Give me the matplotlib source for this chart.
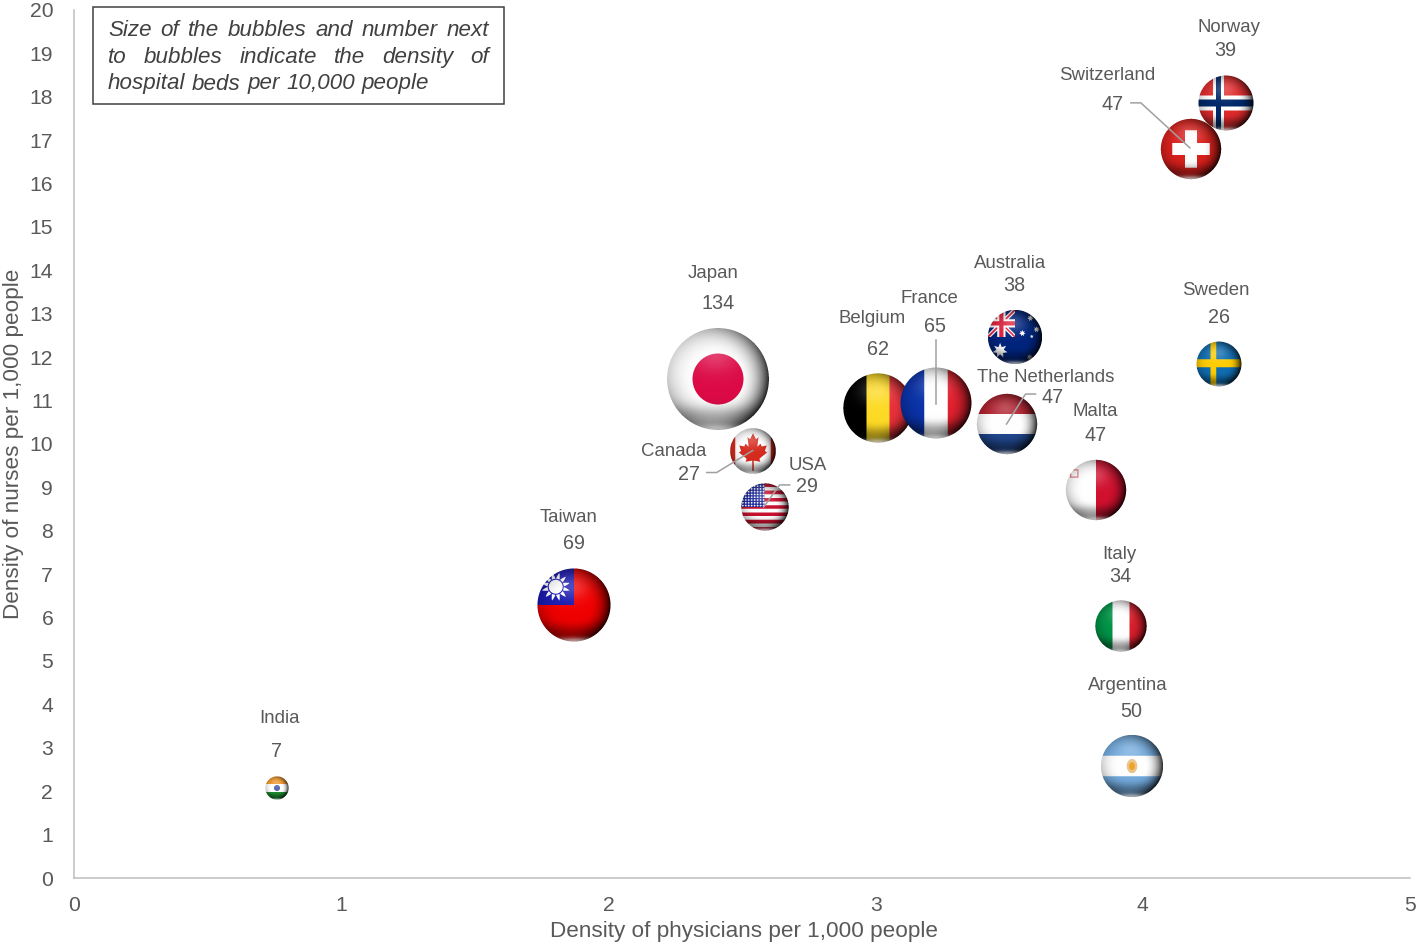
import numpy as np
import matplotlib
matplotlib.use("Agg")
import matplotlib.pyplot as plt
from matplotlib.lines import Line2D
from matplotlib.offsetbox import OffsetImage, AnnotationBbox
from matplotlib.patches import Rectangle
from matplotlib.path import Path
from matplotlib.transforms import IdentityTransform

plt.rcParams['font.family'] = ['Liberation Sans', 'DejaVu Sans']

countries = ['India', 'Taiwan', 'Japan', 'Canada', 'USA', 'Belgium', 'France', 'Australia',
             'The Netherlands', 'Malta', 'Italy', 'Argentina', 'Sweden', 'Norway', 'Switzerland']
physicians = [0.76, 1.87, 2.41, 2.54, 2.585, 3.01, 3.225, 3.52, 3.49, 3.825, 3.92, 3.96, 4.285, 4.31, 4.18]
nurses = [2.07, 6.3, 11.5, 9.85, 8.55, 10.83, 10.94, 12.47, 10.46, 8.94, 5.8, 2.58, 11.84, 17.86, 16.8]
beds = [7, 69, 134, 27, 29, 62, 65, 38, 47, 47, 34, 50, 26, 39, 47]

# pixel offsets from the bubble centre, x right / y down: name label, value label
label_offsets = {
    'India': ((2, -71), (-1, -38)),
    'Taiwan': ((-5, -88), (0, -62)),
    'Japan': ((-5, -106), (0, -76)),
    'Canada': ((-79, 0), (-64, 23)),
    'USA': ((43, -42), (42, -21)),
    'Belgium': ((-6, -90), (0, -59)),
    'France': ((-6, -106), (-1, -78)),
    'Australia': ((-4, -74), (0, -52)),
    'The Netherlands': ((39, -48), (46, -28)),
    'Malta': ((-1, -80), (0, -56)),
    'Italy': ((-2, -73), (-1, -51)),
    'Argentina': ((-4, -82), (-1, -56)),
    'Sweden': ((-3, -75), (0, -48)),
    'Norway': ((3, -76), (0, -53)),
    'Switzerland': ((-84, -74), (-78, -45)),
}

leaders = {
    'Switzerland': [(-60, -46), (-50, -46), (-1, -1)],
    'Canada': [(-46, 22), (-36, 22), (0, 0)],
    'USA': [(25, -22), (15, -22), (-1, 0)],
    'France': [(0, -63), (0, 1)],
    'The Netherlands': [(29, -30), (19, -30), (0, 0)],
}

note_lines = ['Size of the bubbles and number next',
              'to bubbles indicate the density of',
              'hospital beds per 10,000 people']

GREY = '#595959'
R_PER_ROOT_BED = 4.4  # bubble radius in px is this times sqrt(beds)


def star(cx, cy, r, points=5, inner=0.5):
    ang = np.pi / 2 + np.arange(points * 2) * np.pi / points
    rad = np.where(np.arange(points * 2) % 2 == 0, r, r * inner)
    return Path(np.c_[cx + rad * np.cos(ang), cy + rad * np.sin(ang)], closed=False)


def inside(path, u, v):
    pts = np.c_[u.ravel(), v.ravel()]
    return path.contains_points(pts).reshape(u.shape)


def bands(u, cols):
    img = np.zeros(u.shape + (3,))
    img[u < -1 / 3] = cols[0]
    img[(u >= -1 / 3) & (u <= 1 / 3)] = cols[1]
    img[u > 1 / 3] = cols[2]
    return img


def rgb(s):
    return np.array(matplotlib.colors.to_rgb(s))


def flag(name, u, v):
    img = np.ones(u.shape + (3,))
    if name == 'India':
        img = bands(-v, [rgb('#F0962A'), rgb('#FFFFFF'), rgb('#1E8A2E')])
        img[np.hypot(u, v) < 0.26] = rgb('#5A6CB0')
    elif name == 'Taiwan':
        img[:] = rgb('#F00000')
        c = (u < 0) & (v > 0)
        img[c] = rgb('#1A1AB0')
        du, dv = u + 0.5, v - 0.5
        r, th = np.hypot(du, dv), np.arctan2(dv, du)
        rays = r < 0.19 + 0.2 * (1 - np.abs(((th * 12 / (2 * np.pi)) % 1) * 2 - 1))
        img[c & rays] = 1
        img[c & (r > 0.19) & (r < 0.22)] = rgb('#1A1AB0')
    elif name == 'Japan':
        img[np.hypot(u, v) < 0.5] = rgb('#DC0A46')
    elif name == 'Canada':
        img[np.abs(u) > 0.78] = rgb('#D52B1E')
        leaf = [(0, .78), (.13, .52), (.24, .6), (.19, .18), (.33, .32), (.38, .2), (.6, .24), (.52, .0),
                (.62, -.06), (.28, -.34), (.32, -.47), (.03, -.42), (.03, -.88), (-.03, -.88), (-.03, -.42),
                (-.32, -.47), (-.28, -.34), (-.62, -.06), (-.52, .0), (-.6, .24), (-.38, .2), (-.33, .32),
                (-.19, .18), (-.24, .6), (-.13, .52)]
        img[inside(Path(leaf + [leaf[0]]), u, v)] = rgb('#D52B1E')
    elif name == 'USA':
        stripe = np.floor((1 - v) * 6.5).astype(int) % 2 == 0
        img[stripe] = rgb('#C8102E')
        c = (u < -0.02) & (v > 0)
        img[c] = rgb('#1E2A9C')
        sx, sy = (u * 8) % 1 - 0.5, (v * 8.5) % 1 - 0.5
        img[c & (np.hypot(sx, sy) < 0.3)] = 1
    elif name == 'Belgium':
        img = bands(u, [rgb('#000000'), rgb('#FDDA24'), rgb('#E8303A')])
    elif name == 'France':
        img = bands(u, [rgb('#0A32A8'), rgb('#FFFFFF'), rgb('#E0202E')])
    elif name == 'Australia':
        img[:] = rgb('#00247D')
        c = (u < -0.0) & (v > 0)
        cu, cv = (u + 0.5) * 2, (v - 0.5) * 2
        white = (np.abs(cu - cv) < 0.22) | (np.abs(cu + cv) < 0.22)
        red = (np.abs(cu - cv) < 0.09) | (np.abs(cu + cv) < 0.09)
        img[c & white] = 1
        img[c & red] = rgb('#E0203C')
        img[c & ((np.abs(cu) < 0.3) | (np.abs(cv) < 0.3))] = 1
        img[c & ((np.abs(cu) < 0.16) | (np.abs(cv) < 0.16))] = rgb('#E0203C')
        stars = [(-0.55, -0.5, 0.28, 7), (0.57, 0.7, 0.12, 7), (0.8, 0.28, 0.12, 7), (0.27, 0.14, 0.12, 7),
                 (0.55, -0.75, 0.12, 7), (0.62, 0.02, 0.07, 5)]
        for sx, sy, sr, pts in stars:
            img[inside(star(sx, sy, sr, pts), u, v)] = 1
    elif name == 'The Netherlands':
        img = bands(-v, [rgb('#B0202E'), rgb('#FFFFFF'), rgb('#21468B')])
    elif name == 'Malta':
        img[u > 0] = rgb('#D0102E')
        gc = (np.abs(u + 0.72) < 0.14) & (np.abs(v - 0.55) < 0.14)
        gi = (np.abs(u + 0.72) < 0.1) & (np.abs(v - 0.55) < 0.1)
        img[gc & ~gi] = rgb('#E08088')
    elif name == 'Italy':
        img = bands(u, [rgb('#009246'), rgb('#FFFFFF'), rgb('#D81E2C')])
    elif name == 'Argentina':
        img = bands(-v, [rgb('#74ACDF'), rgb('#FFFFFF'), rgb('#74ACDF')])
        e = np.hypot(u / 0.17, v / 0.23)
        img[e < 1] = rgb('#E8C48A')
        img[e < 0.55] = rgb('#F0A020')
    elif name == 'Sweden':
        img[:] = rgb('#0F6DB0')
        img[(np.abs(u + 0.25) < 0.13) | (np.abs(v - 0.03) < 0.18)] = rgb('#FFCC00')
    elif name == 'Norway':
        img[:] = rgb('#E02A2C')
        img[(np.abs(u + 0.27) < 0.2) | (np.abs(v) < 0.27)] = 1
        img[(np.abs(u + 0.27) < 0.09) | (np.abs(v) < 0.13)] = rgb('#002868')
    elif name == 'Switzerland':
        img[:] = rgb('#D8201C')
        img[((np.abs(u) < 0.62) & (np.abs(v) < 0.2)) | ((np.abs(u) < 0.2) & (np.abs(v) < 0.62))] = 1
    return img


def sphere(name, radius, ss=4):
    # flag wrapped on a glossy ball, rendered oversampled then averaged down to pixels
    n = int(np.ceil(radius)) * 2 + 2
    c = (np.arange(n * ss) + 0.5) / ss - n / 2
    u, v = np.meshgrid(c / radius, -c / radius)
    r = np.hypot(u, v)
    img = flag(name, u, v)

    # dark rim, heaviest towards the right and a little below, light grey on the left
    side = (u * 0.9 - v * 0.43) / np.maximum(r, 1e-6)
    rim = np.clip((r - 0.4) / 0.6, 0, 1) ** 2.2 * (0.6 + 0.4 * side)
    img = img * (1 - 0.88 * np.clip(rim, 0, 1)[..., None])

    # grey shadow band low on the ball
    shadow = np.exp(-((v + 0.72) / 0.2) ** 2)
    img = img * (1 - 0.2 * shadow[..., None])

    # soft highlight upper middle and reflected light at the bottom
    glow = np.exp(-(((u + 0.05) / 0.45) ** 2 + ((v - 0.5) / 0.35) ** 2))
    img = img + (1 - img) * 0.22 * glow[..., None]
    low = np.exp(-((v + 0.98) / 0.09) ** 2 - (u / 0.55) ** 2)
    img = img + (1 - img) * 0.55 * low[..., None]

    rgba = np.dstack([img, (r <= 1).astype(float)])
    rgba[..., :3] *= rgba[..., 3:]
    rgba = rgba.reshape(n, ss, n, ss, 4).mean(axis=(1, 3))
    a = np.maximum(rgba[..., 3:], 1e-6)
    rgba[..., :3] = np.clip(rgba[..., :3] / a, 0, 1)
    return rgba


def note_box(fig):
    fig.add_artist(Rectangle((92.5 / 1418, 1 - 104 / 944), 411 / 1418, 97 / 944, transform=fig.transFigure,
                             fc='white', ec='#404040', lw=1.1))
    renderer = fig.canvas.get_renderer()
    left, right = 108, 489
    for i, line in enumerate(note_lines):
        y = 1 - (36.5 + 26.5 * i) / 944
        words = line.split()
        items = [fig.text(0, y, w, fontsize=16.1, style='italic', color='#404040', va='baseline') for w in words]
        widths = [t.get_window_extent(renderer).width for t in items]
        # first two lines are justified, the last one is not
        gap = (right - left - sum(widths)) / (len(words) - 1) if i < 2 else 6.5
        x = left
        for t, w in zip(items, widths):
            t.set_x(x / 1418)
            x += w + gap


fig = plt.figure(figsize=(14.18, 9.44), dpi=100)
ax = fig.add_axes([74 / 1418, 1 - 878 / 944, 1336 / 1418, 868 / 944])
ax.set_xlim(0, 5)
ax.set_ylim(0, 20)
ax.set_xticks(range(6))
ax.set_yticks(range(21))
ax.tick_params(length=0, labelsize=15.2, labelcolor=GREY)
ax.tick_params(axis='y', pad=15)
ax.tick_params(axis='x', pad=13)
for s in ['top', 'right']:
    ax.spines[s].set_visible(False)
for s in ['left', 'bottom']:
    ax.spines[s].set_color('#BFBFBF')
    ax.spines[s].set_linewidth(1.1)
ax.set_xlabel('Density of physicians per 1,000 people', fontsize=16.2, color=GREY, labelpad=4, x=0.5015)
ax.set_ylabel('Density of nurses per 1,000 people', fontsize=16.2, color=GREY, labelpad=4)

for i, name in enumerate(countries):
    radius = R_PER_ROOT_BED * np.sqrt(beds[i])
    im = OffsetImage(sphere(name, radius), zoom=1, dpi_cor=False, interpolation='nearest')
    ab = AnnotationBbox(im, (physicians[i], nurses[i]), frameon=False, pad=0, zorder=3 + i * 0.01,
                        annotation_clip=False)
    ax.add_artist(ab)

for i, name in enumerate(countries):
    center = ax.transData.transform((physicians[i], nurses[i]))
    if name in leaders:
        pts = np.array(leaders[name], dtype=float)
        ax.add_line(Line2D(center[0] + pts[:, 0], center[1] - pts[:, 1], color='#A0A0A0', lw=1.1, zorder=5,
                           transform=IdentityTransform()))
    (nx, ny), (vx, vy) = label_offsets[name]
    for txt, dx, dy, size in [(name, nx, ny, 13.4), (str(beds[i]), vx, vy, 14.2)]:
        ax.annotate(txt, (physicians[i], nurses[i]), xytext=(dx, -dy - 1), textcoords='offset pixels',
                    fontsize=size, color=GREY, ha='center', va='center', zorder=6, annotation_clip=False)

fig.canvas.draw()
note_box(fig)
fig.savefig('out.png', dpi=100)
